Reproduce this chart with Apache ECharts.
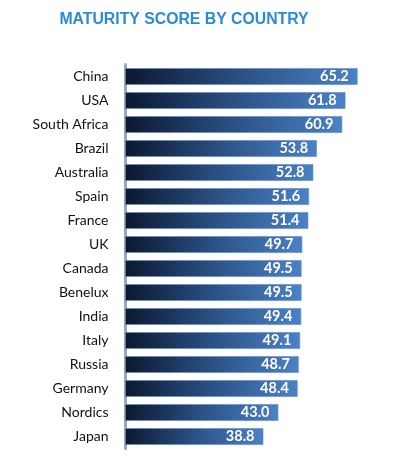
<!DOCTYPE html>
<html>
<head>
<meta charset="utf-8">
<script src="https://cdn.jsdelivr.net/npm/echarts@6/dist/echarts.min.js"></script>
<style>
    html, body { margin: 0; padding: 0; background: #fff; }
    #chart1 { width: 396px; height: 470px; }
</style>
</head>
<body>
<div id="chart1"></div>
<script>
// 国家 / 分数
const countries = ['China', 'USA', 'South Africa', 'Brazil', 'Australia', 'Spain', 'France', 'UK',
    'Canada', 'Benelux', 'India', 'Italy', 'Russia', 'Germany', 'Nordics', 'Japan']
const scores = [65.2, 61.8, 60.9, 53.8, 52.8, 51.6, 51.4, 49.7, 49.5, 49.5, 49.4, 49.1, 48.7, 48.4, 43.0, 38.8]

const chart1 = echarts.init(document.getElementById('chart1'))
const option = {
    animation: false,
    title: {
        text: 'MATURITY SCORE BY COUNTRY',
        left: 179,
        textAlign: 'center',
        top: 7,
        textStyle: {
            color: '#2a8ad6',
            fontSize: 15.8,
            fontWeight: 'bold',
            fontFamily: 'Liberation Sans'
        }
    },
    grid: {
        left: 125,
        right: 15,
        top: 64.5,
        bottom: 470 - 448.5
    },
    xAxis: {
        type: 'value',
        min: 0,
        max: (396 - 15 - 125) / 3.57,
        show: false
    },
    yAxis: {
        type: 'category',
        inverse: true,
        data: countries,
        offset: 2.5,
        axisLine: {
            lineStyle: { color: '#a6a6a6', width: 3, cap: 'round' }
        },
        axisTick: { show: false },
        axisLabel: {
            margin: 14,
            color: '#111',
            fontSize: 14,
            fontFamily: 'Lato'
        },
        splitLine: { show: false }
    },
    series: [
        {
            type: 'bar',
            data: scores,
            barWidth: 17,
            itemStyle: {
                color: {
                    type: 'linear',
                    x: 0, y: 0, x2: 1, y2: 0,
                    colorStops: [
                        { offset: 0, color: '#0b1830' },
                        { offset: 0.5, color: '#2b5184' },
                        { offset: 1, color: '#4b82c6' }
                    ]
                },
                borderColor: 'rgba(90,140,210,0.6)',
                borderWidth: 1
            },
            label: {
                show: true,
                position: 'insideRight',
                distance: 9,
                color: '#fff',
                fontSize: 14.5,
                fontWeight: 'bold',
                fontFamily: 'Lato',
                formatter: (p) => p.value.toFixed(1)
            }
        }
    ]
}
chart1.setOption(option)
</script>
</body>
</html>
